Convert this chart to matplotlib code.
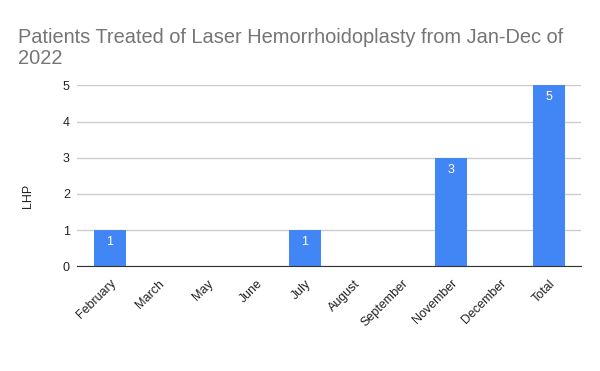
import matplotlib
matplotlib.use("Agg")
import matplotlib.pyplot as plt

categories = ["February", "March", "May", "June", "July", "August",
              "September", "November", "December", "Total"]
values = [1, 0, 0, 0, 1, 0, 0, 3, 0, 5]
title = "Patients Treated of Laser Hemorrhoidoplasty from Jan-Dec of\n2022"
ylabel = "LHP"

plt.rcParams['font.family'] = ['Liberation Sans', 'DejaVu Sans']

fig = plt.figure(figsize=(6, 3.71), dpi=100)
ax = fig.add_axes([0.128, 0.282, 0.84, 0.488])

x = list(range(len(categories)))
ax.bar(x, values, width=0.656, color="#4285F4", zorder=3)
for xi, v in zip(x, values):
    if v > 0:
        ax.text(xi, v - 0.17, str(v), ha="center", va="top", color="white",
                fontsize=9, zorder=4)

ax.set_xlim(-0.676, len(categories) - 1 + 0.656)
ax.set_ylim(0, 5)
ax.set_yticks(range(0, 6))
ax.grid(axis="y", color="#cccccc", linewidth=1, zorder=0)
for s in ["top", "right", "left"]:
    ax.spines[s].set_visible(False)
ax.spines["bottom"].set_color("#333333")
ax.spines["bottom"].set_zorder(5)
ax.tick_params(axis="both", length=0, labelsize=9, colors="#222222")
ax.tick_params(axis="y", pad=5)
ax.set_xticks(x)
ax.set_xticklabels(categories, rotation=45, ha="right", rotation_mode="anchor")
ax.tick_params(axis="x", pad=8)
ax.set_ylabel(ylabel, fontsize=9, color="#222222")
ax.yaxis.set_label_coords(-0.084, 0.39)

fig.text(0.03, 0.925, title, fontsize=14.4, color="#757575", ha="left", va="top",
         linespacing=1.15)

fig.savefig("out.png", dpi=100)
